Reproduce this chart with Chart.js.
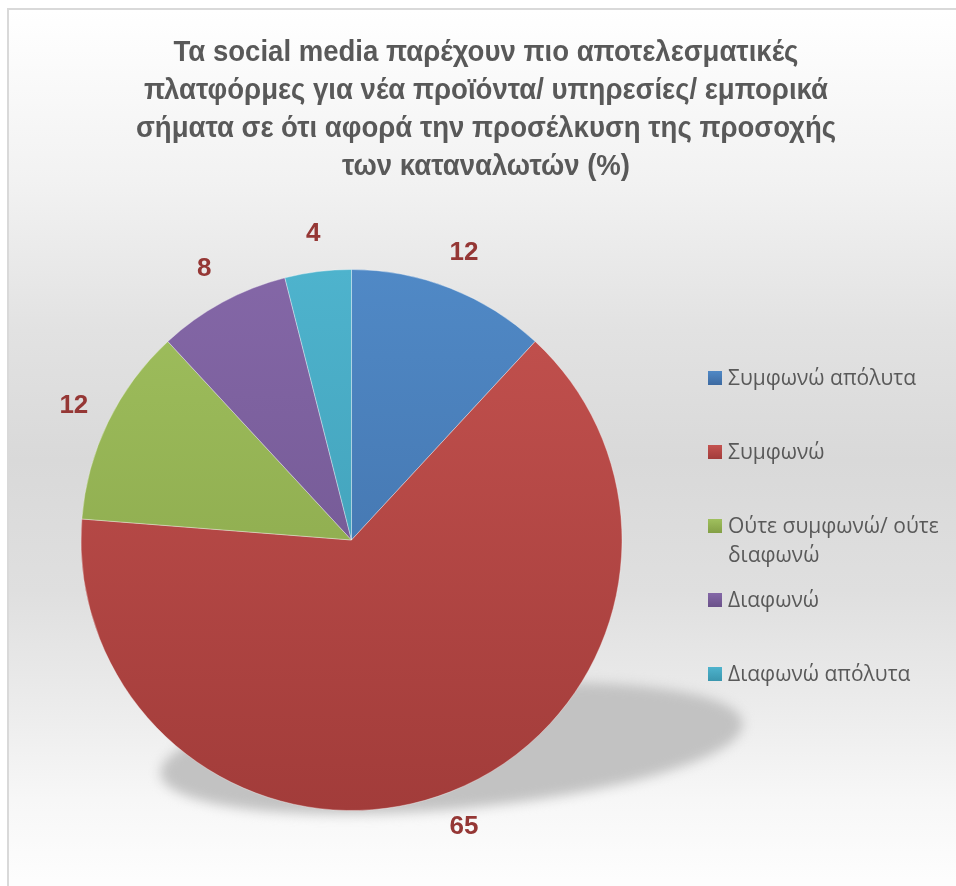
<!DOCTYPE html>
<html lang="el">
<head>
<meta charset="utf-8">
<script src="https://cdn.jsdelivr.net/npm/chart.js@4.4.1/dist/chart.umd.min.js"></script>
<style>
  html, body { margin: 0; padding: 0; background: #fff; }
  #wrap { position: relative; width: 956px; height: 886px; overflow: hidden; background: #fff; }
  #panel {
    position: absolute; left: 7px; top: 8px; width: 1000px; height: 920px;
    border-left: 2px solid #d9d9d9; border-top: 2px solid #d9d9d9;
    background: linear-gradient(to bottom, #ffffff 0px, #f2f2f2 170px, #e2e2e2 320px, #d9d9d9 450px,
      #dfdfdf 580px, #ebebeb 690px, #f7f7f7 790px, #fdfdfd 870px);
  }
  #chart { position: absolute; left: 0; top: 0; }
  #title {
    position: absolute; left: 86px; top: 32px; width: 800px; text-align: center; white-space: nowrap;
    font: bold 29px/38px "Liberation Sans", Arial, sans-serif;
    color: #595959; transform: scaleX(0.95); transform-origin: 400px 0;
  }
  #legend { position: absolute; left: 708px; top: 363px; width: 240px; }
  .item { position: relative; height: 74px; }
  .item .box { position: absolute; left: 0; top: 8px; width: 14px; height: 14px; }
  .item .txt {
    position: absolute; left: 20px; top: 0; width: 222px;
    font: 21px/29px "Open Sans", sans-serif; color: #595959;
  }
</style>
</head>
<body>
<div id="wrap">
  <div id="panel"></div>
  <canvas id="chart" width="956" height="886"></canvas>
  <div id="title">Τα social media παρέχουν πιο αποτελεσματικές<br>πλατφόρμες για νέα προϊόντα/ υπηρεσίες/ εμπορικά<br>σήματα σε ότι αφορά την προσέλκυση της προσοχής<br>των καταναλωτών (%)</div>
  <div id="legend"></div>
</div>
<script>
// Απαντήσεις και ποσοστά
const categories = ['Συμφωνώ απόλυτα', 'Συμφωνώ', 'Ούτε συμφωνώ/ ούτε διαφωνώ', 'Διαφωνώ', 'Διαφωνώ απόλυτα'];
const shares = [12, 65, 12, 8, 4];

// χρώματα φέτας: πάνω (ανοιχτό) και κάτω (σκούρο) άκρο της διαβάθμισης
const topColors = ['#5089c6', '#c4524f', '#a0c05e', '#8467a7', '#4eb3cd'];
const bottomColors = ['#3d6aa1', '#a23c3a', '#839f45', '#6a5189', '#3a96ae'];

// υπόμνημα δεξιά
const legend = document.getElementById('legend');
categories.forEach((c, i) => {
    const item = document.createElement('div');
    item.className = 'item';
    item.innerHTML = '<div class="box" style="background:linear-gradient(' + topColors[i] + ',' + bottomColors[i] + ')"></div>' +
        '<div class="txt">' + c + '</div>';
    legend.appendChild(item);
});

// σκιά κάτω από την πίτα
const pieShadow = {
    id: 'pieShadow',
    beforeDatasetsDraw(chart) {
        const arc = chart.getDatasetMeta(0).data[0];
        const {x, y, outerRadius: r} = arc.getProps(['x', 'y', 'outerRadius'], true);
        const ctx = chart.ctx;
        ctx.save();
        ctx.filter = 'blur(6px)';
        ctx.fillStyle = '#c2c2c2';
        ctx.beginPath();
        ctx.ellipse(x + r * 0.37, y + r * 0.77, r * 1.08, r * 0.225, -5 * Math.PI / 180, 0, Math.PI * 2);
        ctx.fill();
        ctx.restore();
    }
};

// τιμές έξω από κάθε φέτα
const outsideLabels = {
    id: 'outsideLabels',
    afterDatasetsDraw(chart) {
        const ctx = chart.ctx;
        const meta = chart.getDatasetMeta(0);
        ctx.save();
        ctx.font = 'bold 26px "Liberation Sans", Arial, sans-serif';
        ctx.fillStyle = '#953735';
        ctx.textAlign = 'center';
        ctx.textBaseline = 'middle';
        meta.data.forEach((arc, i) => {
            const p = arc.getProps(['x', 'y', 'startAngle', 'endAngle', 'outerRadius'], true);
            const mid = (p.startAngle + p.endAngle) / 2;
            const d = p.outerRadius + 38;
            ctx.fillText(String(shares[i]), p.x + Math.cos(mid) * d, p.y + Math.sin(mid) * d);
        });
        ctx.restore();
    }
};

const ctx = document.getElementById('chart').getContext('2d');
const myChart = new Chart(ctx, {
    type: 'pie',
    data: {
        labels: categories,
        datasets: [{
            data: shares,
            backgroundColor(c) {
                const area = c.chart.chartArea;
                if (!area) return topColors[c.dataIndex];
                const g = c.chart.ctx.createLinearGradient(0, area.top, 0, area.bottom);
                g.addColorStop(0, topColors[c.dataIndex]);
                g.addColorStop(1, bottomColors[c.dataIndex]);
                return g;
            },
            borderColor: 'rgba(255,255,255,0.35)',
            borderWidth: 1,
            hoverOffset: 0
        }]
    },
    options: {
        responsive: false,
        animation: false,
        events: [],
        layout: { padding: { left: 80, right: 333, top: 269, bottom: 75 } },
        plugins: {
            legend: { display: false },
            title: { display: false },
            tooltip: { enabled: false }
        }
    },
    plugins: [pieShadow, outsideLabels]
});
</script>
</body>
</html>
